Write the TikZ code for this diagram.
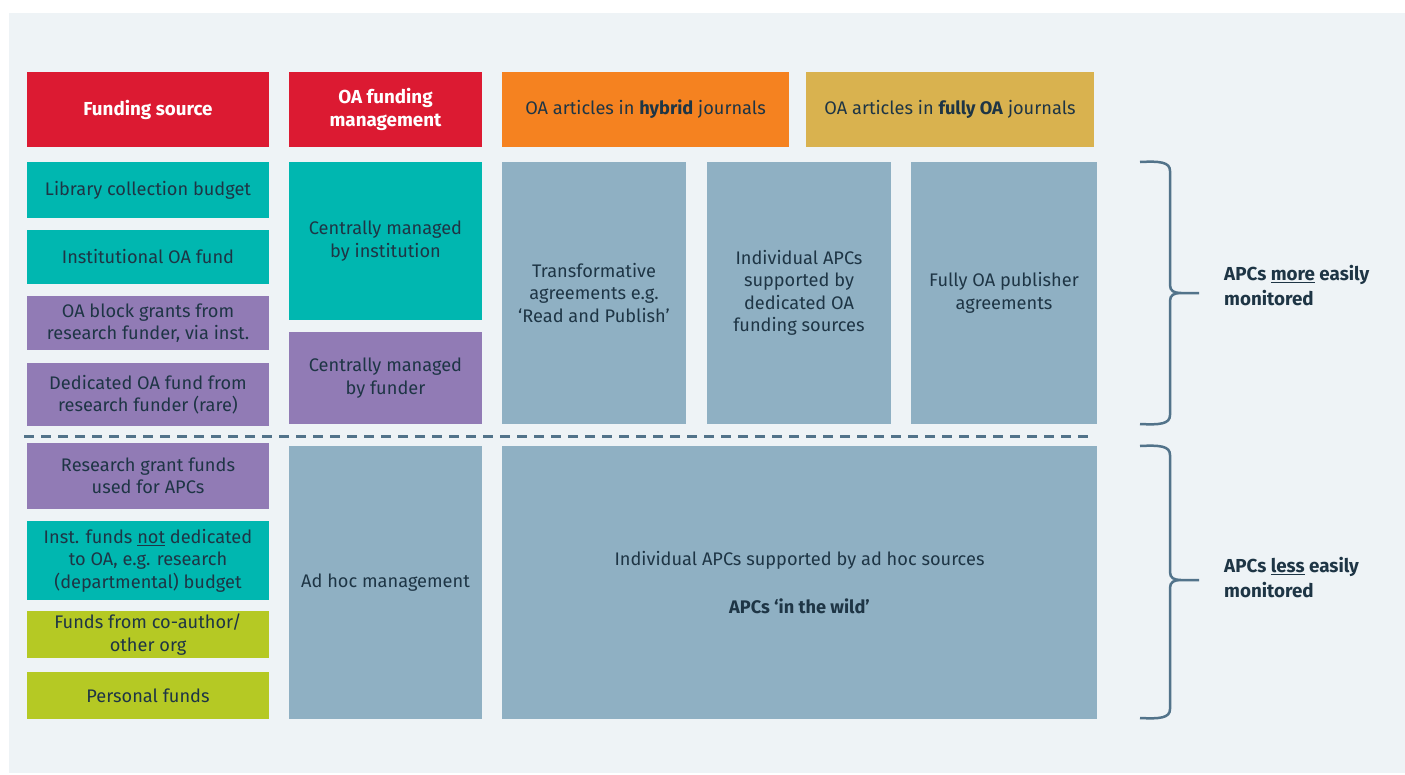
\documentclass[tikz,border=0pt]{standalone}
\usepackage{fontspec}
\setmainfont{Fira Sans}
\definecolor{oared}{HTML}{DC1A32}
\definecolor{oateal}{HTML}{00B7B0}
\definecolor{oapurple}{HTML}{917BB5}
\definecolor{oalime}{HTML}{B5C924}
\definecolor{oaorange}{HTML}{F58220}
\definecolor{oagold}{HTML}{D9B24F}
\definecolor{oagrey}{HTML}{8FB0C3}
\definecolor{oapanel}{HTML}{EEF3F6}
\definecolor{oatext}{HTML}{1E3545}
\definecolor{oaline}{HTML}{52738A}

\begin{document}
\begin{tikzpicture}[x=1pt,y=-1pt]
      \useasboundingbox (0,0) rectangle (1405,774);
      \fill[oapanel] (9,13) rectangle (1405,773);
      \begin{scope}
        \tikzstyle{cbox} = [inner sep=0pt, align=center, text=oatext, font=\fontsize{18.2}{22.5}\selectfont]
        \tikzstyle{hbox} = [cbox, minimum height=75pt]
        \tikzstyle{fbox} = [cbox, minimum width=242pt]
        \tikzstyle{mbox} = [cbox, minimum width=193pt]
        \tikzstyle{sidetext} = [anchor=west, inner sep=0pt, align=left, text=oatext, font=\fontsize{18.8}{25}\selectfont\bfseries]
        % column heads
        \node[hbox, minimum width=242pt, fill=oared, text=white, font=\fontsize{18.8}{23}\selectfont\bfseries] (fs) at (148,109.5) {Funding source};
        \node[hbox, minimum width=193pt, fill=oared, text=white, font=\fontsize{18.8}{23}\selectfont\bfseries] (fm) at (385.5,109.5) {OA funding\\management};
        \node[hbox, minimum width=287pt, fill=oaorange] (hyb) at (645.5,109.5) {OA articles in \textbf{hybrid} journals};
        \node[hbox, minimum width=288pt, fill=oagold] (foa) at (950,109.5) {OA articles in \textbf{fully OA} journals};
        % funding sources
        \node[fbox, minimum height=56pt, fill=oateal] (lib) at (148,190) {Library collection budget};
        \node[fbox, minimum height=54pt, fill=oateal] (inst) at (148,257) {Institutional OA fund};
        \node[fbox, minimum height=54pt, fill=oapurple] (blk) at (148,323) {OA block grants from\\research funder, via inst.};
        \node[fbox, minimum height=63pt, fill=oapurple] (ded) at (148,394.5) {Dedicated OA fund from\\research funder (rare)};
        \node[fbox, minimum height=66pt, fill=oapurple] (rgf) at (148,476) {Research grant funds\\used for APCs};
        \node[fbox, minimum height=79pt, fill=oateal] (notd) at (148,560.5) {Inst. funds \underline{not} dedicated\\to OA, e.g. research\\(departmental) budget};
        \node[fbox, minimum height=47pt, fill=oalime] (coa) at (148,634.5) {Funds from co-author/\\other org};
        \node[fbox, minimum height=47pt, fill=oalime] (pers) at (148,695.5) {Personal funds};
        % management
        \node[mbox, minimum height=158pt, fill=oateal] (cinst) at (385.5,241) {Centrally managed\\by institution};
        \node[mbox, minimum height=92pt, fill=oapurple] (cfun) at (385.5,378) {Centrally managed\\by funder};
        \node[mbox, minimum height=273pt, fill=oagrey] (adhoc) at (385.5,582.5) {Ad hoc management};
        % article routes
        \node[cbox, minimum width=184pt, minimum height=262pt, fill=oagrey] (ta) at (594,293) {Transformative\\agreements e.g.\\‘Read and Publish’};
        \node[cbox, minimum width=184pt, minimum height=262pt, fill=oagrey] (ind) at (799,293) {Individual APCs\\supported by\\dedicated OA\\funding sources};
        \node[cbox, minimum width=186pt, minimum height=262pt, fill=oagrey] (fpa) at (1004,293) {Fully OA publisher\\agreements};
        \node[cbox, minimum width=595pt, minimum height=273pt, fill=oagrey] (wild) at (799.5,582.5) {Individual APCs supported by ad hoc sources\\[26pt]\textbf{APCs ‘in the wild’}};
        % separator
        \coordinate (sepl) at (24,436);
        \coordinate (sepr) at (1090,436);
        \draw[oaline, line width=3pt, dash pattern=on 10pt off 7pt] (sepl) -- (sepr);
        % braces
        \draw[oaline, line width=2.5pt] (1140,162) .. controls (1160,161) and (1170,162) .. (1170,171) -- (1170,285)
          .. controls (1170,291) and (1174,293) .. (1181,293) -- (1199,293) -- (1181,293)
          .. controls (1174,293) and (1170,295) .. (1170,301) -- (1170,415) .. controls (1170,424) and (1160,425) .. (1140,424);
        \draw[oaline, line width=2.5pt] (1140,446) .. controls (1160,445) and (1170,446) .. (1170,455) -- (1170,572)
          .. controls (1170,578) and (1174,580) .. (1181,580) -- (1199,580) -- (1181,580)
          .. controls (1174,580) and (1170,582) .. (1170,588) -- (1170,709) .. controls (1170,718) and (1160,719) .. (1140,718);
        \node[sidetext] (more) at (1224,285.5) {APCs \underline{more} easily\\monitored};
        \node[sidetext] (less) at (1224,577.5) {APCs \underline{less} easily\\monitored};
      \end{scope}
    \end{tikzpicture}
\end{document}
